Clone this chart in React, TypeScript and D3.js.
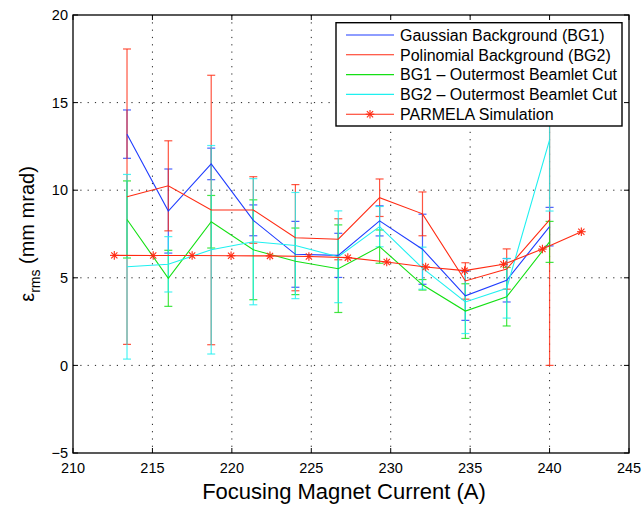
import React from "react";
import * as d3 from "d3";

// Measured currents (A) shared by the four beamlet analyses
const currents = [213.4, 216.0, 218.7, 221.35, 224.0, 226.7, 229.3, 232.0, 234.7, 237.3, 240.0];

// Emittance (mm mrad) and error half-widths per analysis
const bg1 = [13.2, 8.81, 11.5, 8.28, 6.34, 6.28, 8.25, 6.63, 3.97, 4.86, 7.92];
const bg1Err = [1.38, 2.4, 0.9, 0.88, 1.88, 1.26, 0.86, 2.0, 1.4, 1.24, 1.1];
const bg2 = [9.63, 10.25, 8.87, 8.87, 7.29, 7.2, 9.57, 8.65, 4.82, 5.5, 8.3];
const bg2Err = [8.43, 2.57, 7.69, 1.9, 3.03, 1.17, 1.07, 1.25, 1.04, 1.15, 8.3];
const bg1Cut = [8.33, 4.97, 8.2, 6.6, 5.94, 5.52, 6.78, 4.6, 3.1, 3.92, 7.05];
const bg1CutErr = [2.2, 1.6, 1.5, 2.85, 1.9, 2.5, 0.95, 0.3, 1.56, 1.67, 1.17];
const bg2Cut = [5.63, 5.77, 6.6, 7.06, 6.84, 6.2, 7.92, 5.55, 3.62, 4.4, 12.87];
const bg2CutErr = [5.27, 1.58, 5.95, 3.6, 3.03, 2.62, 1.15, 1.2, 1.8, 1.7, 4.06];

// PARMELA simulation
const simCurrents = [212.6, 215.05, 217.5, 219.95, 222.4, 224.85, 227.3, 229.75, 232.2, 234.65, 237.1, 239.55, 242.0];
const simEmittance = [6.28, 6.27, 6.27, 6.26, 6.25, 6.22, 6.15, 5.9, 5.62, 5.41, 5.77, 6.64, 7.63];

const xTicks = [210, 215, 220, 225, 230, 235, 240, 245];
const yTicks = [-5, 0, 5, 10, 15, 20];

const seriesNames = [
  "Gaussian Background (BG1)",
  "Polinomial Background (BG2)",
  "BG1 \u2013 Outermost Beamlet Cut",
  "BG2 \u2013 Outermost Beamlet Cut",
  "PARMELA Simulation",
];

const FONT = "'Liberation Sans', Arial, Helvetica, sans-serif";
const W = 644;
const H = 507;
const plot = { left: 73, right: 629, top: 15, bottom: 453 };

const x = d3.scaleLinear().domain([210, 245]).range([plot.left, plot.right]);
const y = d3.scaleLinear().domain([-5, 20]).range([plot.bottom, plot.top]);

const series = [
  { name: seriesNames[0], values: bg1, errors: bg1Err, color: "#1f3cff" },
  { name: seriesNames[1], values: bg2, errors: bg2Err, color: "#ff2a12" },
  { name: seriesNames[2], values: bg1Cut, errors: bg1CutErr, color: "#14e014" },
  { name: seriesNames[3], values: bg2Cut, errors: bg2CutErr, color: "#1ff0f0" },
];
const simColor = "#ff2a12";

const line = d3
  .line<[number, number]>()
  .x((d) => x(d[0]))
  .y((d) => y(d[1]));

function Star({ cx, cy, r, color }: { cx: number; cy: number; r: number; color: string }) {
  const d = r * 0.72;
  return (
    <g stroke={color} strokeWidth={1.1}>
      <line x1={cx - r} y1={cy} x2={cx + r} y2={cy} />
      <line x1={cx} y1={cy - r} x2={cx} y2={cy + r} />
      <line x1={cx - d} y1={cy - d} x2={cx + d} y2={cy + d} />
      <line x1={cx - d} y1={cy + d} x2={cx + d} y2={cy - d} />
    </g>
  );
}

export default function App() {
  const cap = 4;
  const tickLen = 5;
  const legend = { x: 336, y: 22.7, w: 286, h: 103.3, row0: 35, rowStep: 19.8 };

  return (
    <svg
      width={W}
      height={H}
      style={{ position: "absolute", left: 0, top: 0, background: "#fff" }}
      fontFamily={FONT}
    >
      <rect x={0} y={0} width={W} height={H} fill="#fff" />

      {/* dotted grid */}
      <g stroke="#222" strokeWidth={1} strokeDasharray="1.2 6.1">
        {xTicks
          .filter((t) => t > 210 && t < 245)
          .map((t) => (
            <line key={"gx" + t} x1={x(t)} x2={x(t)} y1={plot.top} y2={plot.bottom} />
          ))}
        {yTicks
          .filter((t) => t > -5 && t < 20)
          .map((t) => (
            <line key={"gy" + t} x1={plot.left} x2={plot.right} y1={y(t)} y2={y(t)} />
          ))}
      </g>

      {/* error bars */}
      {series.map((s) => (
        <g key={"err" + s.name} stroke={s.color} strokeWidth={1.2} strokeOpacity={0.8}>
          {currents.map((c, i) => {
            const cx = x(c);
            const hi = y(s.values[i] + s.errors[i]);
            const lo = y(s.values[i] - s.errors[i]);
            return (
              <g key={i}>
                <line x1={cx} x2={cx} y1={hi} y2={lo} />
                <line x1={cx - cap} x2={cx + cap} y1={hi} y2={hi} />
                <line x1={cx - cap} x2={cx + cap} y1={lo} y2={lo} />
              </g>
            );
          })}
        </g>
      ))}

      {/* series lines */}
      {series.map((s) => (
        <path
          key={"line" + s.name}
          d={line(currents.map((c, i) => [c, s.values[i]] as [number, number])) || ""}
          fill="none"
          stroke={s.color}
          strokeWidth={1.1}
        />
      ))}

      {/* simulation */}
      <path
        d={line(simCurrents.map((c, i) => [c, simEmittance[i]] as [number, number])) || ""}
        fill="none"
        stroke={simColor}
        strokeWidth={1.1}
      />
      {simCurrents.map((c, i) => (
        <Star key={"sim" + i} cx={x(c)} cy={y(simEmittance[i])} r={4.3} color={simColor} />
      ))}

      {/* axes frame and ticks */}
      <rect
        x={plot.left}
        y={plot.top}
        width={plot.right - plot.left}
        height={plot.bottom - plot.top}
        fill="none"
        stroke="#000"
        strokeWidth={1.3}
      />
      <g stroke="#000" strokeWidth={1}>
        {xTicks.map((t) => (
          <g key={"tx" + t}>
            <line x1={x(t)} x2={x(t)} y1={plot.bottom} y2={plot.bottom - tickLen} />
            <line x1={x(t)} x2={x(t)} y1={plot.top} y2={plot.top + tickLen} />
          </g>
        ))}
        {yTicks.map((t) => (
          <g key={"ty" + t}>
            <line x1={plot.left} x2={plot.left + tickLen} y1={y(t)} y2={y(t)} />
            <line x1={plot.right} x2={plot.right - tickLen} y1={y(t)} y2={y(t)} />
          </g>
        ))}
      </g>

      {/* tick labels */}
      <g fontSize={14.5} fill="#000">
        {xTicks.map((t) => (
          <text key={"lx" + t} x={x(t)} y={473} textAnchor="middle">
            {t}
          </text>
        ))}
        {yTicks.map((t) => (
          <text key={"ly" + t} x={68} y={y(t) + 5.2} textAnchor="end">
            {t < 0 ? "\u2212" + Math.abs(t) : t}
          </text>
        ))}
      </g>

      {/* axis titles */}
      <text x={344} y={499} fontSize={22} textAnchor="middle" fill="#000">
        Focusing Magnet Current (A)
      </text>
      <text
        transform={`translate(33.5, ${(plot.top + plot.bottom) / 2}) rotate(-90)`}
        fontSize={20}
        textAnchor="middle"
        fill="#000"
      >
        {"\u03b5"}
        <tspan fontSize={14} dy={6}>
          rms
        </tspan>
        <tspan dy={-6}>{" (mm mrad)"}</tspan>
      </text>

      {/* legend */}
      <rect
        x={legend.x}
        y={legend.y}
        width={legend.w}
        height={legend.h}
        fill="#fff"
        stroke="#000"
        strokeWidth={1.4}
      />
      {seriesNames.map((name, i) => {
        const ry = legend.row0 + i * legend.rowStep;
        const color = i < 4 ? series[i].color : simColor;
        return (
          <g key={"leg" + i}>
            <line x1={346} x2={394} y1={ry} y2={ry} stroke={color} strokeWidth={1.1} />
            {i === 4 && <Star cx={370} cy={ry} r={4.3} color={simColor} />}
            <text x={400} y={ry + 5.7} fontSize={16} fill="#000">
              {name}
            </text>
          </g>
        );
      })}
    </svg>
  );
}
